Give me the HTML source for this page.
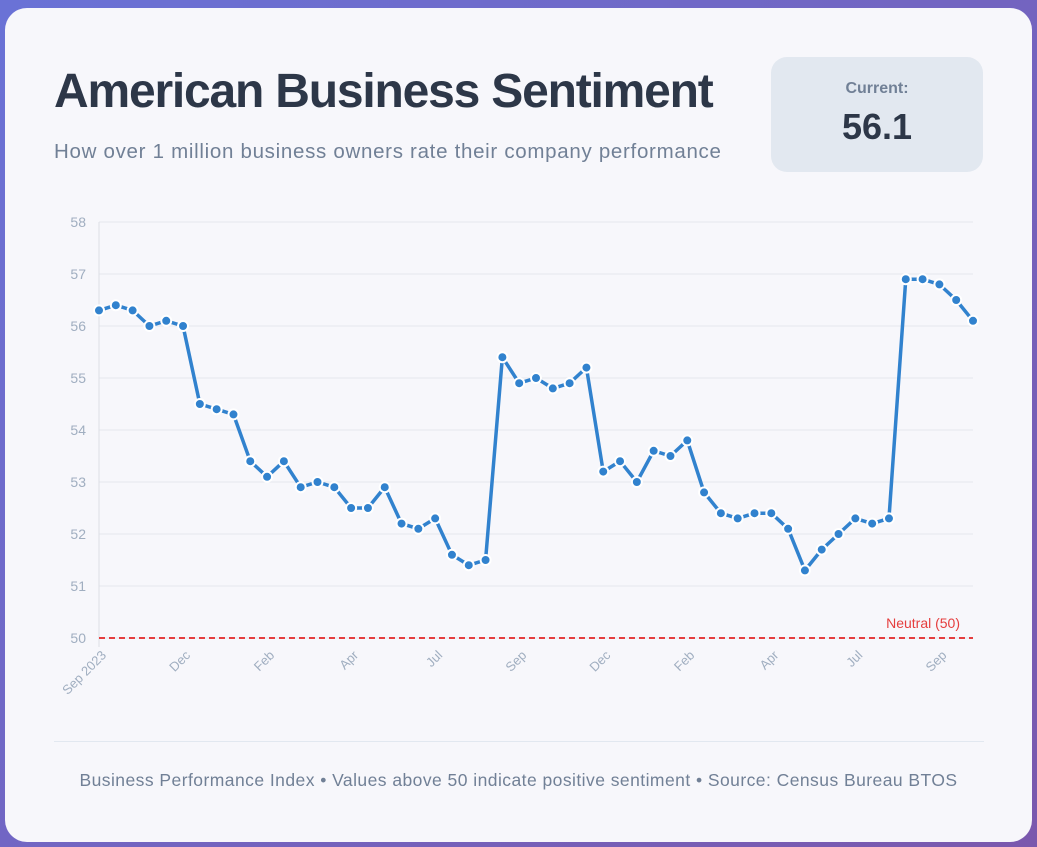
<!DOCTYPE html>
<html><head><meta charset="utf-8"><style>
html,body{margin:0;padding:0;}
body{width:1037px;height:847px;background:linear-gradient(135deg,#6a72d6,#7a58ad);position:relative;overflow:hidden;font-family:"Liberation Sans",sans-serif;}
.card{position:absolute;left:5px;top:8px;width:1027px;height:834px;background:#f7f7fb;border-radius:22px;}
h1{position:absolute;left:49px;top:56px;margin:0;font-size:48px;font-weight:bold;color:#2d3748;letter-spacing:-1.2px;}
.sub{position:absolute;left:49px;top:132px;font-size:20.5px;color:#718096;letter-spacing:0.7px;}
.cur{position:absolute;left:766px;top:49px;width:212px;height:115px;background:#e2e8f0;border-radius:16px;text-align:center;}
.cur .l{margin-top:23px;font-size:16px;font-weight:bold;color:#718096;}
.cur .v{margin-top:8px;font-size:36px;font-weight:bold;color:#2d3748;}
.div{position:absolute;left:49px;top:733px;width:930px;height:1px;background:#e2e8f0;}
.foot{position:absolute;left:0;width:1027px;top:762px;text-align:center;font-size:17.5px;color:#718096;letter-spacing:0.45px;}
svg{position:absolute;left:0;top:0;}
</style></head><body>
<div class="card">
<h1>American Business Sentiment</h1>
<div class="sub">How over 1 million business owners rate their company performance</div>
<div class="cur"><div class="l">Current:</div><div class="v">56.1</div></div>
<div class="div"></div>
<div class="foot">Business Performance Index • Values above 50 indicate positive sentiment • Source: Census Bureau BTOS</div>
</div>
<svg id="chart" width="1037" height="847"></svg>
<script>
const values=[56.3,56.4,56.3,56.0,56.1,56.0,54.5,54.4,54.3,53.4,53.1,53.4,52.9,53.0,52.9,52.5,52.5,52.9,52.2,52.1,52.3,51.6,51.4,51.5,55.4,54.9,55.0,54.8,54.9,55.2,53.2,53.4,53.0,53.6,53.5,53.8,52.8,52.4,52.3,52.4,52.4,52.1,51.3,51.7,52.0,52.3,52.2,52.3,56.9,56.9,56.8,56.5,56.1];
const xLabelIdx=[0,5,10,15,20,25,30,35,40,45,50];
const xLabels=["Sep 2023","Dec","Feb","Apr","Jul","Sep","Dec","Feb","Apr","Jul","Sep"];
const yTicks=[50,51,52,53,54,55,56,57,58];
const neutral=50;
const NS="http://www.w3.org/2000/svg";
const svg=document.getElementById('chart');
const x0=99,x1=973,yTop=222,yBot=638,yMin=50,yMax=58;
const xs=i=>x0+(x1-x0)*i/(values.length-1);
const ys=v=>yBot-(v-yMin)/(yMax-yMin)*(yBot-yTop);
function mk(t,a){const e=document.createElementNS(NS,t);for(const k in a)e.setAttribute(k,a[k]);svg.appendChild(e);return e;}
yTicks.forEach(t=>{
 const g=mk('line',{x1:x0,x2:x1,y1:ys(t),y2:ys(t),stroke:'#e5e7ee','stroke-width':1});
 
 
 const l=mk('text',{x:86,y:ys(t)+5,'text-anchor':'end','font-size':14,fill:'#a0aec0','font-family':'Liberation Sans, sans-serif'});
 l.textContent=t;
 
 
});
const ax=mk('line',{x1:x0,x2:x0,y1:yTop,y2:yBot+9,stroke:'#dcdfe6','stroke-width':1});


xLabelIdx.forEach((idx,k)=>{
 const x=xs(idx),y=yBot+14;
 const l=mk('text',{x:x+8,y:y+4,'text-anchor':'end','font-size':13,fill:'#a0aec0','font-family':'Liberation Sans, sans-serif',transform:`rotate(-45 ${x+8} ${y+4})`});
 l.textContent=xLabels[k];
 
 
});
const nl=mk('line',{x1:x0,x2:x1,y1:ys(neutral),y2:ys(neutral),stroke:'#e53e3e','stroke-width':2,'stroke-dasharray':'6 4'});


const nt=mk('text',{x:960,y:ys(neutral)-10,'text-anchor':'end','font-size':14,fill:'#e53e3e','font-family':'Liberation Sans, sans-serif'});
nt.textContent='Neutral (50)';


const p=mk('polyline',{points:values.map((v,i)=>xs(i)+','+ys(v)).join(' '),fill:'none',stroke:'#3182ce','stroke-width':3.5,'stroke-linejoin':'round'});


values.forEach((v,i)=>{
 const c=mk('circle',{cx:xs(i),cy:ys(v),r:5,fill:'#3182ce',stroke:'#ffffff','stroke-width':2});
 
 
});
</script>
</body></html>
